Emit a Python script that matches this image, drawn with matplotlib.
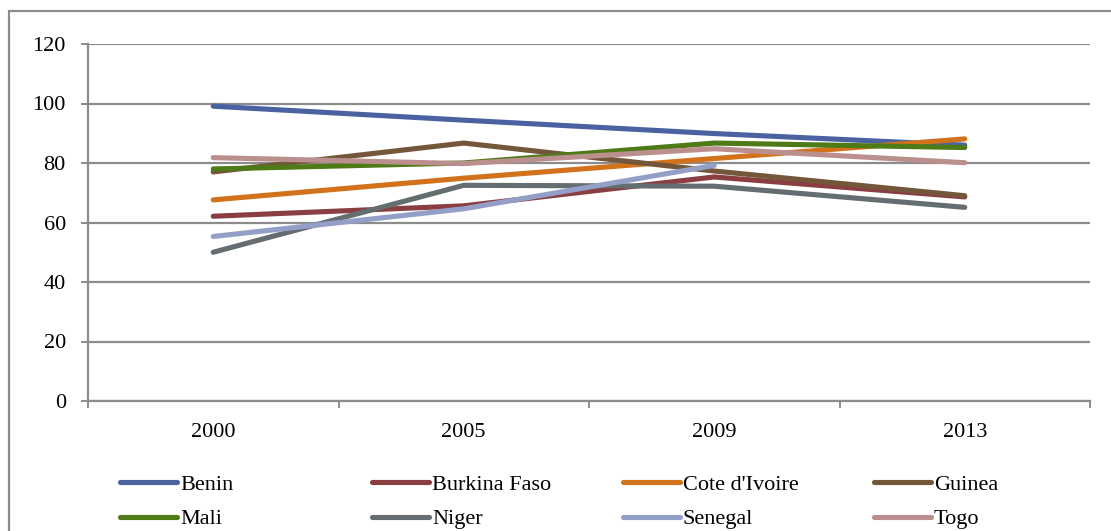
import matplotlib
matplotlib.use("Agg")
import matplotlib.pyplot as plt
from matplotlib.patches import Rectangle

years = ["2000", "2005", "2009", "2013"]
series_names = ["Benin", "Burkina Faso", "Cote d'Ivoire", "Guinea",
                "Mali", "Niger", "Senegal", "Togo"]
benin = [99.1, 94.4, 89.9, 86.0]
burkina_faso = [62.1, 65.6, 75.3, 68.6]
cote_divoire = [67.6, 74.9, 81.5, 88.1]
guinea = [77.0, 86.7, 77.3, 69.0]
mali = [78.0, 80.0, 86.7, 85.2]
niger = [50.0, 72.5, 72.2, 65.1]
senegal = [55.3, 64.6, 79.2, None]
togo = [81.8, 79.8, 84.8, 80.1]
all_values = [benin, burkina_faso, cote_divoire, guinea, mali, niger, senegal, togo]
colors = ["#4A63A0", "#8A3E42", "#D2721A", "#74573A",
          "#4E7A17", "#646D70", "#949FC8", "#BA8F8E"]
yticks = [0, 20, 40, 60, 80, 100, 120]

plt.rcParams['font.family'] = ['Liberation Serif', 'DejaVu Serif']
W, H = 1111, 531
fig = plt.figure(figsize=(W / 100, H / 100), dpi=100)
ax = fig.add_axes([88 / W, 1 - 401 / H, (1090 - 88) / W, (401 - 44) / H])

grid_c = "#8C8C8C"
FS = 16
x = list(range(len(years)))
for name, vals, c in zip(series_names, all_values, colors):
    xs = [xi for xi, v in zip(x, vals) if v is not None]
    vs = [v for v in vals if v is not None]
    ax.plot(xs, vs, color=c, lw=3.7, solid_capstyle='round',
            solid_joinstyle='round', label=name, zorder=3)

ax.set_ylim(0, 120)
ax.set_xlim(-0.5, len(years) - 0.5)
ax.set_yticks(yticks)
ax.set_yticklabels([str(t) for t in yticks])
ax.yaxis.grid(True, color=grid_c, lw=1.6)
ax.set_axisbelow(True)
ax.set_xticks([i - 0.5 for i in range(len(years) + 1)])
ax.set_xticklabels([])
ax.set_xticks(x, minor=True)
ax.set_xticklabels(years, minor=True)
ax.tick_params(axis='x', which='major', direction='out', length=5, width=1.4, color=grid_c)
ax.tick_params(axis='x', which='minor', length=0, pad=16, labelsize=FS)
ax.tick_params(axis='y', direction='out', length=5, width=1.4, color=grid_c, pad=11, labelsize=FS)
for s in ['top', 'right']:
    ax.spines[s].set_visible(False)
for s in ['left', 'bottom']:
    ax.spines[s].set_color(grid_c)
    ax.spines[s].set_linewidth(1.6)

# outer chart frame
fig.patches.append(Rectangle((9 / W, -0.2), 1.2, 1.2 - 11 / H,
                             transform=fig.transFigure, fill=False,
                             edgecolor=grid_c, lw=1.6))

# legend: 4 columns, 2 rows
handles = ax.get_lines()
col_x = [120, 372, 623, 874]
for j in range(4):
    hs = [handles[j], handles[j + 4]]
    fig.legend(hs, [series_names[j], series_names[j + 4]],
               loc='center left', bbox_to_anchor=(col_x[j] / W, 1 - 502 / H),
               frameon=False, fontsize=FS, handlelength=2.55,
               handletextpad=0.15, borderpad=0, borderaxespad=0,
               labelspacing=0.62)

fig.savefig("out.png", dpi=100)
